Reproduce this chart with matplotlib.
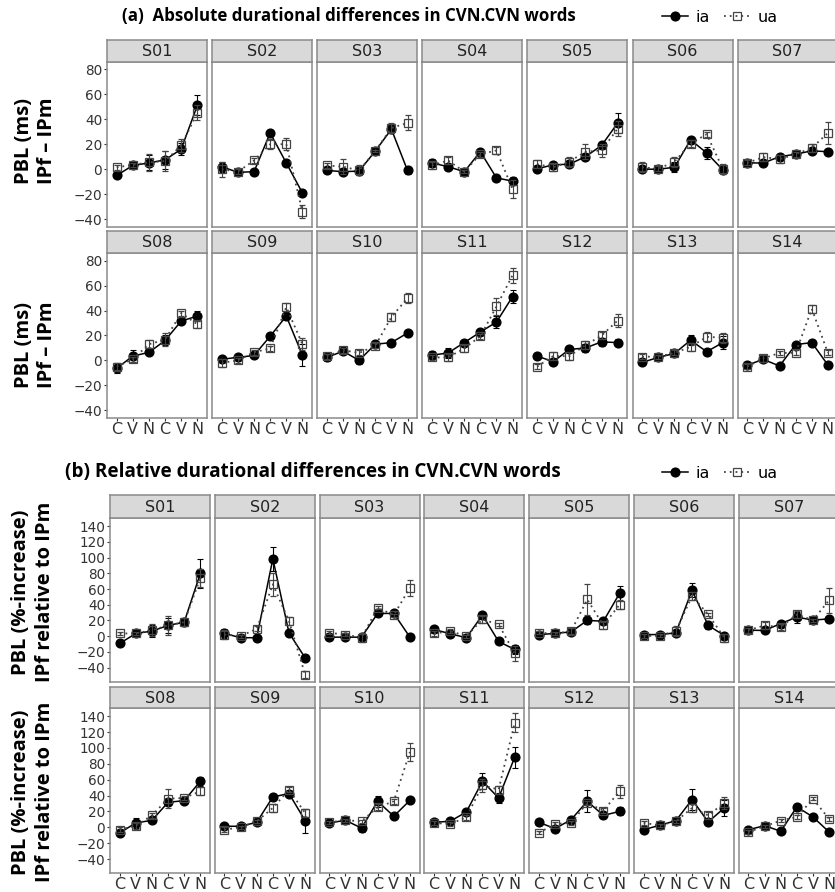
import numpy as np
import matplotlib.pyplot as plt
from matplotlib.lines import Line2D

W, H = 835, 892

speakers = ["S01", "S02", "S03", "S04", "S05", "S06", "S07",
            "S08", "S09", "S10", "S11", "S12", "S13", "S14"]
segments = ["C", "V", "N", "C", "V", "N"]

# (a) absolute differences, ms  (one row of 6 values per speaker)
abs_ia = [[-5, 3, 5, 7.5, 16, 51], [2, -2.5, -2, 29, 5, -19], [-1, -2, -1.5, 14.5, 32, -1],
          [5, 2, -2, 14, -7, -9.5], [0.3, 3.5, 4, 10, 19, 37], [0, 0, 1.5, 23.5, 13, -0.5],
          [5, 5, 10, 12, 14.7, 14], [-6.4, 3.5, 6.4, 16, 31.6, 35.6], [1, 2.4, 4, 19.4, 35.6, 4.2],
          [2.4, 7.4, 0, 13, 14.3, 22], [4.2, 6, 14.3, 22.8, 30.8, 51.3], [3.5, -1, 8.8, 10, 14.9, 14.3],
          [-1.6, 2.4, 5.6, 16.2, 7, 14.3], [-3.7, 0.8, -4.5, 12.7, 14.3, -3.7]]
abs_ia_err = [[1, 1.5, 6, 7, 5, 8], [4, 1, 1, 2, 2, 2], [2, 3, 3, 1, 3, 3],
              [3, 2, 1, 2, 1, 3], [2, 2, 2, 2, 3, 8], [2, 2, 4, 2, 5, 2],
              [1, 1, 1.5, 2, 1.5, 1], [4, 5, 1.5, 4, 2, 4], [1.5, 1, 1, 1.5, 2, 9],
              [3, 2, 3, 1.5, 1, 1], [3, 4, 1.5, 2, 5, 5], [1, 1.5, 1.5, 3, 3, 3],
              [1, 1, 3, 4, 1.5, 5], [2, 1.5, 1, 1, 1, 2]]
abs_ua = [[1.5, 3.5, 5.5, 6.5, 19, 45], [0, -2, 7, 20, 20, -34], [3, 2, -1, 14.5, 33, 37],
          [3, 7, -2, 12, 15, -16], [4, 1.5, 6, 14, 15, 32.5], [1.5, 0.3, 6, 20.5, 28, 0.3],
          [5, 9.7, 8, 12, 17, 29], [-5, 1, 13, 16.7, 38, 29], [-2, 0, 6.6, 9.6, 42.8, 13],
          [3.5, 8.2, 6, 11.7, 34.8, 50], [2.4, 2.4, 9.6, 19.4, 43.3, 68.5], [-5, 3.5, 3.5, 12.2, 20, 32],
          [3, 3, 6, 10.9, 18.9, 18.3], [-5, 1.6, 6, 6, 41.4, 6]]
abs_ua_err = [[2, 1.5, 7, 8, 5, 6], [6, 2, 2, 4, 5, 5], [2, 6, 4, 1, 4, 6],
              [3, 3, 1, 2, 3, 7], [3, 3, 4, 6, 5, 6], [4, 2, 4, 3, 2, 4],
              [2, 3, 3, 2, 3, 9], [3, 2, 3, 5, 2, 3], [3, 2, 2, 2, 3, 5],
              [2, 2, 2, 2, 3, 4], [2, 3, 3, 2, 7, 6], [2, 3, 3, 3, 3, 5],
              [2, 1.5, 2, 3, 4, 4], [2, 3, 1.5, 2, 3, 2]]

# (b) relative differences, %-increase
rel_ia = [[-9.3, 3.4, 6.4, 13.6, 17.8, 79.8], [3.4, -2, -2, 98.5, 4.2, -27.6], [-1.3, -1.3, -1.3, 28.9, 28.9, -1.3],
          [8.5, 3, -2, 26.8, -6.8, -17], [2, 3.4, 5.5, 20, 19, 54.3], [2, 2, 4.2, 58.6, 13.6, 0.8],
          [7.6, 7.2, 16, 24.2, 20.4, 22], [-7.1, 5.5, 8.8, 31.5, 33.6, 58], [1.3, 1.3, 6.3, 38.3, 42.5, 8.4],
          [5.5, 8.8, -1, 32.8, 13.9, 34], [6.3, 7.6, 19.3, 58, 37, 88.3], [6.3, -1.7, 9.7, 32.8, 15, 20],
          [-3, 2.5, 8.4, 35, 6.7, 24.4], [-3, 2, -5, 25.7, 13, -6]]
rel_ia_err = [[1.5, 2, 8, 10, 5, 18], [6, 1.5, 1.5, 15, 2, 2], [2, 2, 2, 2, 2, 4],
              [4, 2, 2, 2, 2, 6], [2, 2, 2, 4, 3, 10], [2, 1.5, 2, 9, 4, 2],
              [4, 2, 2, 7, 2, 2], [4, 6, 2, 3, 2, 6], [2, 2, 2, 4, 3, 15],
              [4, 2, 5, 7, 2, 2], [4, 3, 2, 10, 6, 13], [2, 2, 2, 14, 2, 5],
              [2, 2, 4, 13, 2, 10], [2, 2, 2, 2, 2, 3]]
rel_ua = [[3.4, 3.4, 7.6, 13.6, 17.8, 74], [2, 0, 9.3, 66, 19, -49], [4.2, 2, -2, 36, 26.8, 61.6],
          [3.4, 6.4, 0, 21.2, 14.9, -22], [4.2, 3.4, 6.4, 46.7, 13.6, 40], [0, 0.8, 6.4, 51, 27.6, -2],
          [7.6, 13.6, 11.5, 27.6, 20.4, 45.9], [-3, 2, 15, 36, 37, 45.4], [-3, 0, 7.6, 24.4, 47.5, 18],
          [6.3, 8.8, 7.6, 25.2, 32.8, 95], [5.5, 4.2, 12.6, 53, 47.5, 131.6], [-7, 4.2, 5.5, 30.7, 21, 45.4],
          [5.5, 2.5, 7.6, 24.4, 15, 30.7], [-6, 1.3, 8.4, 13, 35.8, 10.5]]
rel_ua_err = [[2, 2, 8, 12, 5, 12], [6, 2, 3, 15, 5, 4], [2, 2, 6, 2, 2, 10],
              [3, 3, 2, 4, 2, 10], [2, 2, 4, 20, 4, 6], [3, 2, 6, 5, 2, 5],
              [3, 4, 4, 4, 2, 16], [3, 4, 3, 12, 3, 5], [3, 2, 2, 5, 3, 5],
              [2, 2, 2, 4, 3, 11], [2, 2, 3, 8, 5, 12], [2, 2, 3, 3, 3, 8],
              [2, 2, 2, 5, 4, 8], [3, 2, 2, 2, 2, 3]]

fig = plt.figure(figsize=(W / 100, H / 100), dpi=100)

PW = 100  # panel width in px
STRIP_C = "#d9d9d9"
EDGE_C = "#8a8a8a"
TXT_C = "#333333"


def px_axes(x0, y0, w, h):
    return fig.add_axes([x0 / W, 1 - (y0 + h) / H, w / W, h / H])


def draw_section(ia, ia_err, ua, ua_err, ylim, yticks, lefts, rows):
    x = np.arange(1, 7)
    for k, spk in enumerate(speakers):
        r, c = divmod(k, 7)
        s_top, s_bot, b_bot = rows[r]
        left = lefts[c]
        ax = px_axes(left, s_bot, PW, b_bot - s_bot)
        st = px_axes(left, s_top, PW, s_bot - s_top)

        # strip
        st.set_facecolor(STRIP_C)
        st.set_xticks([])
        st.set_yticks([])
        for sp in st.spines.values():
            sp.set_color(EDGE_C)
            sp.set_linewidth(1.1)
        st.text(0.5, 0.47, spk, ha="center", va="center", fontsize=11.5, color="#222222")

        # data
        ax.errorbar(x, ia[k], yerr=ia_err[k], fmt="o", linestyle="-", color="black",
                    ms=6.3, lw=1.1, elinewidth=0.8, capsize=2.5, capthick=0.8, zorder=3)
        ax.errorbar(x, ua[k], yerr=ua_err[k], fmt="s", linestyle=(0, (1, 2.2)), color="#444444",
                    mfc="none", mec="#444444", ms=5.8, mew=0.9, lw=1.3, elinewidth=0.8,
                    capsize=2.5, capthick=0.8, zorder=4)

        ax.set_xlim(0.4, 6.6)
        ax.set_ylim(*ylim)
        for sp in ax.spines.values():
            sp.set_color(EDGE_C)
            sp.set_linewidth(1.1)

        if c == 0:
            ax.set_yticks(yticks)
            ax.tick_params(axis="y", length=2.5, width=0.8, color=TXT_C, labelsize=9.8,
                           labelcolor=TXT_C, pad=1)
        else:
            ax.set_yticks([])
        if r == 1:
            ax.set_xticks(x)
            ax.set_xticklabels(segments)
            ax.tick_params(axis="x", length=2.5, width=0.8, color=TXT_C, labelsize=11.5,
                           labelcolor=TXT_C, pad=0.5)
        else:
            ax.set_xticks([])


# (a)
lefts_a = [107 + 105.1 * j for j in range(7)]
rows_a = [(40, 61.7, 226.7), (231, 253.3, 417.7)]
draw_section(abs_ia, abs_ia_err, abs_ua, abs_ua_err, (-46, 86),
             [-40, -20, 0, 20, 40, 60, 80], lefts_a, rows_a)

# (b)
lefts_b = [110 + 104.8 * j for j in range(7)]
rows_b = [(495, 518.3, 681.7), (686.7, 708.3, 873.3)]
draw_section(rel_ia, rel_ia_err, rel_ua, rel_ua_err, (-58, 150),
             [-40, -20, 0, 20, 40, 60, 80, 100, 120, 140], lefts_b, rows_b)

# titles
fig.text(122 / W, 1 - 16 / H, "(a)  Absolute durational differences in CVN.CVN words",
         fontsize=12.2, fontweight="bold", family="Open Sans", ha="left", va="center")
fig.text(65 / W, 1 - 472 / H, "(b) Relative durational differences in CVN.CVN words",
         fontsize=13.6, fontweight="bold", family="Open Sans", ha="left", va="center")

# y labels
lab_kw = dict(fontsize=14.5, fontweight="bold", family="Open Sans", rotation=90,
              ha="center", va="center")
for yc in (141, 345):
    fig.text(24 / W, 1 - yc / H, "PBL (ms)", **lab_kw)
    fig.text(47 / W, 1 - yc / H, "IPf \u2013 IPm", **lab_kw)
for yc in (592, 792):
    fig.text(21 / W, 1 - yc / H, "PBL (%-increase)", **lab_kw)
    fig.text(45 / W, 1 - yc / H, "IPf relative to IPm", **lab_kw)

# legends
h_ia = Line2D([], [], color="black", marker="o", ms=6.3, lw=1.1)
h_ua = Line2D([], [], color="#444444", marker="s", mfc="none", ms=5.8, mew=0.9,
              lw=1.3, linestyle=(0, (1, 2.2)))
for yc in (17, 473):
    fig.legend([h_ia, h_ua], ["ia", "ua"], ncol=2, loc="center left",
               bbox_to_anchor=(662 / W, 1 - yc / H), frameon=False, fontsize=11.5,
               handlelength=1.6, handletextpad=0.5, columnspacing=0.9,
               borderaxespad=0, borderpad=0)

fig.savefig("out.png", dpi=100)
